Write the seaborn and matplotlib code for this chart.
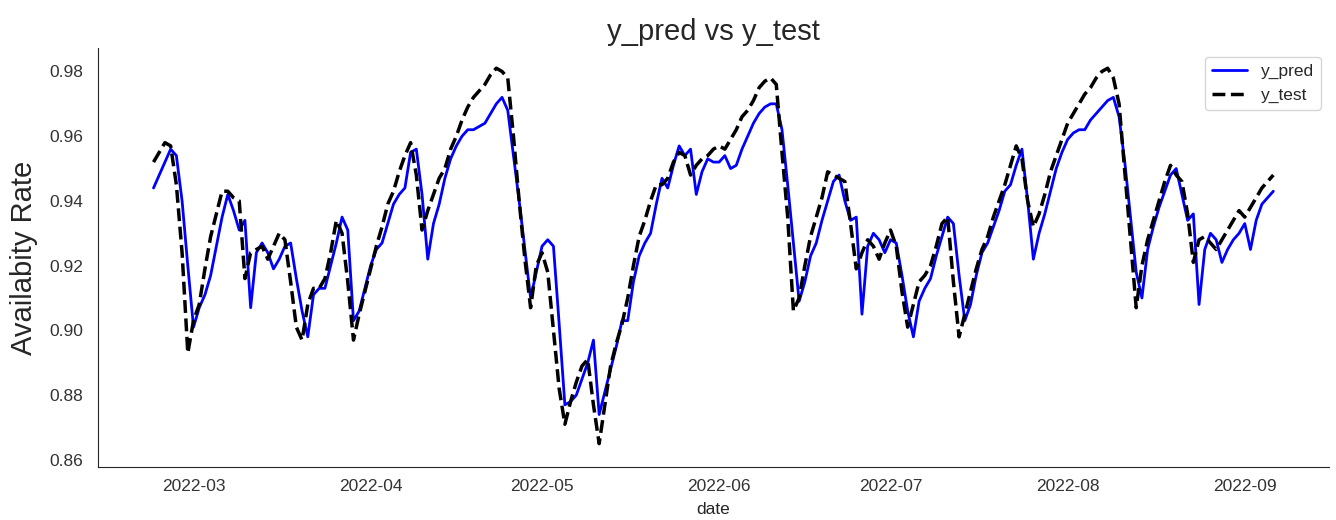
import pandas as pd
import matplotlib
matplotlib.use("Agg")
import matplotlib.pyplot as plt
import matplotlib.dates as mdates
import seaborn as sns

# daily dates, 2022-02-22 .. 2022-09-06
dates = pd.date_range("2022-02-22", "2022-09-06", freq="D")

y_pred = [
    0.944, 0.948, 0.952, 0.956, 0.954, 0.940, 0.920, 0.901, 0.907, 0.911,
    0.917, 0.926, 0.935, 0.942, 0.937, 0.931, 0.934, 0.907, 0.924, 0.927,
    0.924, 0.919, 0.922, 0.926, 0.927, 0.916, 0.906, 0.898, 0.911, 0.913,
    0.913, 0.920, 0.927, 0.935, 0.931, 0.903, 0.906, 0.913, 0.920, 0.925,
    0.927, 0.933, 0.939, 0.942, 0.944, 0.955, 0.956, 0.942, 0.922, 0.933,
    0.939, 0.947, 0.953, 0.957, 0.960, 0.962, 0.962, 0.963, 0.964, 0.967,
    0.970, 0.972, 0.968, 0.954, 0.940, 0.925, 0.910, 0.918, 0.926, 0.928,
    0.926, 0.902, 0.877, 0.878, 0.880, 0.885, 0.890, 0.897, 0.874, 0.881,
    0.888, 0.895, 0.903, 0.903, 0.915, 0.923, 0.927, 0.930, 0.939, 0.947,
    0.944, 0.951, 0.957, 0.954, 0.956, 0.942, 0.949, 0.953, 0.952, 0.952,
    0.954, 0.950, 0.951, 0.956, 0.960, 0.964, 0.967, 0.969, 0.970, 0.970,
    0.962, 0.945, 0.927, 0.909, 0.915, 0.923, 0.927, 0.934, 0.940, 0.946,
    0.948, 0.940, 0.934, 0.935, 0.905, 0.926, 0.930, 0.928, 0.924, 0.928,
    0.927, 0.917, 0.906, 0.898, 0.909, 0.913, 0.916, 0.923, 0.929, 0.935,
    0.933, 0.917, 0.903, 0.908, 0.917, 0.924, 0.927, 0.932, 0.937, 0.943,
    0.945, 0.951, 0.956, 0.940, 0.922, 0.930, 0.936, 0.943, 0.950, 0.955,
    0.959, 0.961, 0.962, 0.962, 0.965, 0.967, 0.969, 0.971, 0.972, 0.966,
    0.952, 0.935, 0.918, 0.910, 0.925, 0.932, 0.938, 0.943, 0.948, 0.950,
    0.942, 0.934, 0.936, 0.908, 0.925, 0.930, 0.928, 0.921, 0.925, 0.928,
    0.930, 0.933, 0.925, 0.934, 0.939, 0.941, 0.943,
]

y_test = [
    0.952, 0.955, 0.958, 0.957, 0.945, 0.924, 0.893, 0.903, 0.908, 0.919,
    0.929, 0.936, 0.943, 0.943, 0.941, 0.940, 0.916, 0.924, 0.925, 0.926,
    0.922, 0.926, 0.930, 0.928, 0.915, 0.901, 0.897, 0.908, 0.913, 0.913,
    0.916, 0.924, 0.934, 0.930, 0.915, 0.897, 0.905, 0.912, 0.919, 0.926,
    0.932, 0.939, 0.943, 0.949, 0.954, 0.958, 0.948, 0.931, 0.937, 0.942,
    0.947, 0.950, 0.956, 0.960, 0.965, 0.969, 0.972, 0.974, 0.976, 0.979,
    0.981, 0.980, 0.978, 0.960, 0.940, 0.922, 0.907, 0.920, 0.924, 0.918,
    0.900, 0.882, 0.871, 0.878, 0.884, 0.889, 0.891, 0.877, 0.865, 0.877,
    0.889, 0.896, 0.902, 0.910, 0.920, 0.929, 0.934, 0.940, 0.945, 0.945,
    0.947, 0.952, 0.955, 0.954, 0.948, 0.951, 0.953, 0.954, 0.956, 0.957,
    0.956, 0.959, 0.962, 0.966, 0.968, 0.971, 0.975, 0.977, 0.978, 0.976,
    0.955, 0.935, 0.906, 0.910, 0.920, 0.929, 0.935, 0.941, 0.949, 0.948,
    0.947, 0.946, 0.933, 0.919, 0.924, 0.928, 0.926, 0.922, 0.927, 0.931,
    0.926, 0.912, 0.901, 0.908, 0.915, 0.917, 0.920, 0.926, 0.933, 0.935,
    0.915, 0.898, 0.905, 0.912, 0.919, 0.925, 0.929, 0.935, 0.940, 0.945,
    0.951, 0.957, 0.953, 0.940, 0.932, 0.936, 0.942, 0.949, 0.954, 0.959,
    0.964, 0.967, 0.970, 0.973, 0.975, 0.978, 0.980, 0.981, 0.978, 0.970,
    0.949, 0.928, 0.907, 0.920, 0.928, 0.934, 0.940, 0.946, 0.951, 0.948,
    0.946, 0.936, 0.921, 0.928, 0.929, 0.927, 0.925, 0.928, 0.931, 0.934,
    0.937, 0.935, 0.938, 0.941, 0.944, 0.946, 0.948,
]

df = pd.DataFrame({"date": dates, "y_pred": y_pred, "y_test": y_test})

sns.set_style("white")
plt.rcParams["font.family"] = ["Liberation Sans", "DejaVu Sans"]

fig, ax = plt.subplots(figsize=(13.36, 5.2), dpi=100)
sns.lineplot(data=df, x="date", y="y_pred", color="blue", lw=2, label="y_pred", ax=ax)
sns.lineplot(data=df, x="date", y="y_test", color="black", lw=2.5, ls="--", label="y_test", ax=ax)

ax.xaxis.set_major_locator(mdates.MonthLocator())
ax.xaxis.set_major_formatter(mdates.DateFormatter("%Y-%m"))
ax.set_ylim(0.8578, 0.9873)
ax.set_yticks([0.86, 0.88, 0.90, 0.92, 0.94, 0.96, 0.98])
ax.tick_params(labelsize=12.5, colors=".2")
ax.tick_params(axis="y", pad=7)
ax.tick_params(axis="x", pad=5)

ax.set_title("y_pred vs y_test", fontsize=21)
ax.set_ylabel("Availabity Rate", fontsize=21, labelpad=8)
ax.set_xlabel("date", fontsize=12.5, labelpad=6)
ax.legend(loc="upper right", fontsize=12.5)
sns.despine()

plt.subplots_adjust(left=0.073, right=0.995, bottom=0.102, top=0.908)
plt.savefig("out.png", dpi=100)
